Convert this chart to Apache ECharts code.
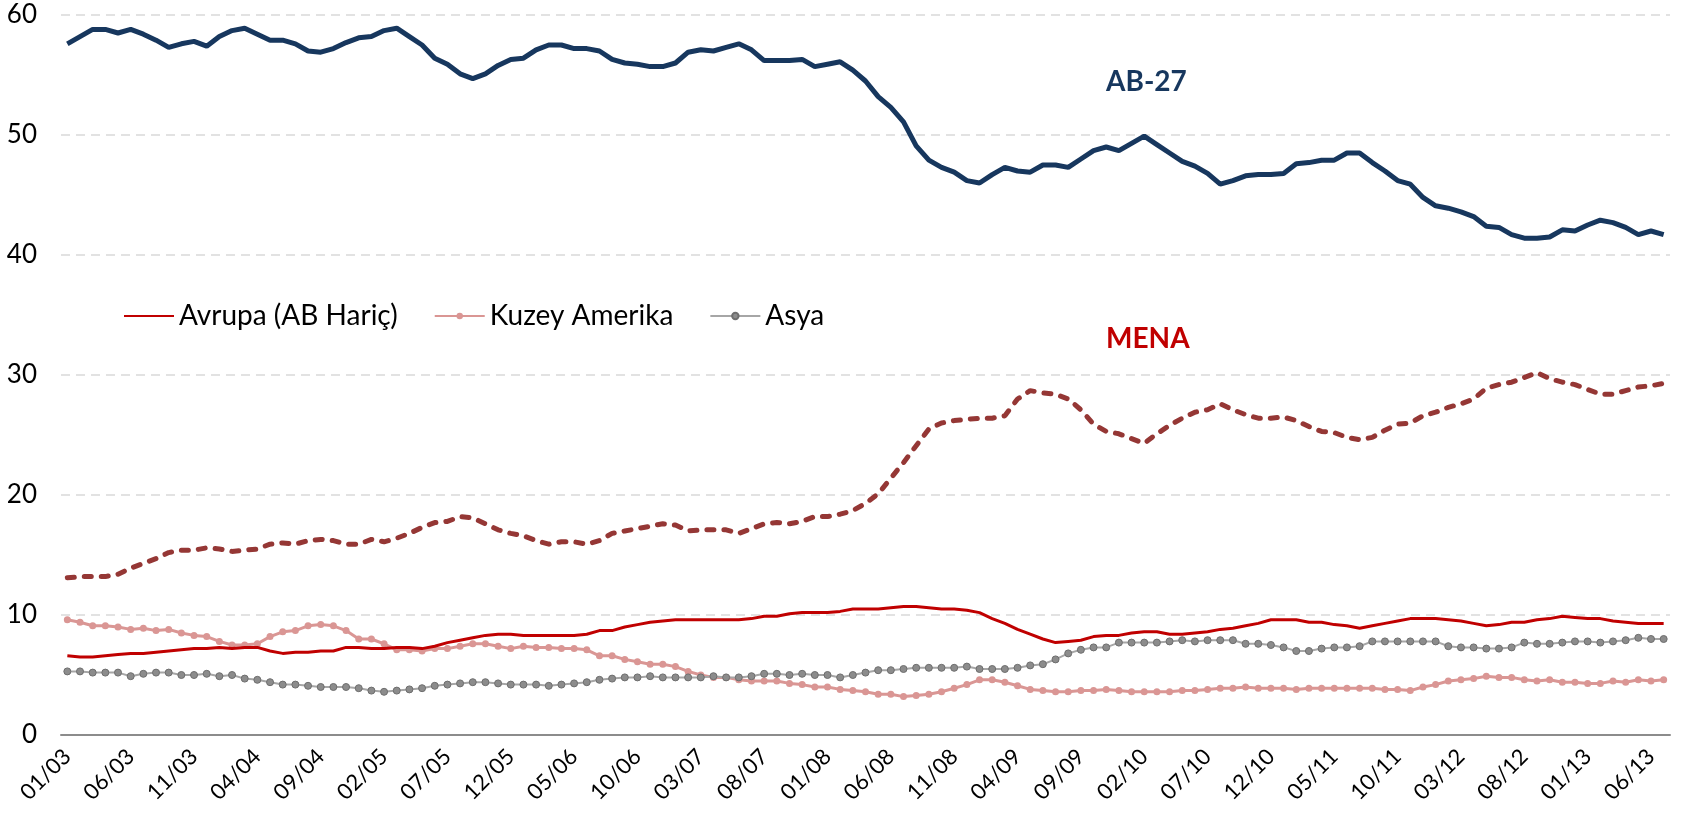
<!DOCTYPE html>
<html>
<head>
<meta charset="utf-8">
<script src="https://cdn.jsdelivr.net/npm/echarts@6/dist/echarts.min.js"></script>
<style>
  html, body { margin: 0; padding: 0; background: #fff; }
  #chart { width: 1684px; height: 819px; }
</style>
</head>
<body>
<div id="chart"></div>
<script>
// aylar: 01/03 .. 07/13
const months = []
for (let y = 3; y <= 13; y++) {
  for (let m = 1; m <= 12; m++) {
    if (y === 13 && m > 7) break
    months.push(String(m).padStart(2, '0') + '/' + String(y).padStart(2, '0'))
  }
}

const ab27 = [
  57.6, 58.2, 58.8, 58.8, 58.5, 58.8, 58.4, 57.9, 57.3, 57.6, 57.8, 57.4, 58.2, 58.7, 58.9, 58.4, 57.9, 57.9, 57.6, 57.0, 56.9,
  57.2, 57.7, 58.1, 58.2, 58.7, 58.9, 58.2, 57.5, 56.4, 55.9, 55.1, 54.7, 55.1, 55.8, 56.3, 56.4, 57.1, 57.5, 57.5, 57.2, 57.2, 57.0,
  56.3, 56.0, 55.9, 55.7, 55.7, 56.0, 56.9, 57.1, 57.0, 57.3, 57.6, 57.1, 56.2, 56.2, 56.2, 56.3, 55.7, 55.9, 56.1, 55.4, 54.5,
  53.2, 52.3, 51.1, 49.1, 47.9, 47.3, 46.9, 46.2, 46.0, 46.7, 47.3, 47.0, 46.9, 47.5, 47.5, 47.3, 48.0, 48.7, 49.0, 48.7, 49.3,
  49.9, 49.2, 48.5, 47.8, 47.4, 46.8, 45.9, 46.2, 46.6, 46.7, 46.7, 46.8, 47.6, 47.7, 47.9, 47.9, 48.5, 48.5, 47.7, 47.0, 46.2,
  45.9, 44.8, 44.1, 43.9, 43.6, 43.2, 42.4, 42.3, 41.7, 41.4, 41.4, 41.5, 42.1, 42.0, 42.5, 42.9, 42.7, 42.3, 41.7, 42.0, 41.7
]

const mena = [
  13.1, 13.2, 13.2, 13.2, 13.4, 13.9, 14.3, 14.7, 15.2, 15.4, 15.4, 15.6, 15.5, 15.3, 15.4, 15.5, 15.9, 16.0, 15.9, 16.2, 16.3,
  16.2, 15.9, 15.9, 16.3, 16.1, 16.4, 16.8, 17.3, 17.7, 17.8, 18.2, 18.1, 17.6, 17.1, 16.8, 16.6, 16.2, 15.9, 16.1, 16.1, 15.9, 16.2,
  16.8, 17.0, 17.2, 17.4, 17.6, 17.5, 17.0, 17.1, 17.1, 17.1, 16.8, 17.2, 17.6, 17.7, 17.6, 17.8, 18.2, 18.2, 18.4, 18.7, 19.3,
  20.1, 21.4, 22.7, 24.1, 25.5, 26.0, 26.2, 26.3, 26.4, 26.4, 26.6, 28.0, 28.7, 28.5, 28.4, 28.0, 27.1, 25.9, 25.3, 25.1, 24.7,
  24.3, 25.1, 25.8, 26.4, 26.9, 27.1, 27.6, 27.1, 26.7, 26.4, 26.4, 26.5, 26.2, 25.7, 25.3, 25.2, 24.8, 24.6, 24.8, 25.4, 25.9,
  26.0, 26.6, 26.9, 27.3, 27.6, 28.0, 28.9, 29.2, 29.4, 29.8, 30.2, 29.7, 29.4, 29.2, 28.8, 28.4, 28.4, 28.7, 29.0, 29.1, 29.3
]

const avrupa = [
  6.6, 6.5, 6.5, 6.6, 6.7, 6.8, 6.8, 6.9, 7.0, 7.1, 7.2, 7.2, 7.3, 7.2, 7.3, 7.3, 7.0, 6.8, 6.9, 6.9, 7.0,
  7.0, 7.3, 7.3, 7.2, 7.2, 7.3, 7.3, 7.2, 7.4, 7.7, 7.9, 8.1, 8.3, 8.4, 8.4, 8.3, 8.3, 8.3, 8.3, 8.3, 8.4, 8.7,
  8.7, 9.0, 9.2, 9.4, 9.5, 9.6, 9.6, 9.6, 9.6, 9.6, 9.6, 9.7, 9.9, 9.9, 10.1, 10.2, 10.2, 10.2, 10.3, 10.5, 10.5,
  10.5, 10.6, 10.7, 10.7, 10.6, 10.5, 10.5, 10.4, 10.2, 9.7, 9.3, 8.8, 8.4, 8.0, 7.7, 7.8, 7.9, 8.2, 8.3, 8.3, 8.5,
  8.6, 8.6, 8.4, 8.4, 8.5, 8.6, 8.8, 8.9, 9.1, 9.3, 9.6, 9.6, 9.6, 9.4, 9.4, 9.2, 9.1, 8.9, 9.1, 9.3, 9.5,
  9.7, 9.7, 9.7, 9.6, 9.5, 9.3, 9.1, 9.2, 9.4, 9.4, 9.6, 9.7, 9.9, 9.8, 9.7, 9.7, 9.5, 9.4, 9.3, 9.3, 9.3
]

const kuzeyAmerika = [
  9.6, 9.4, 9.1, 9.1, 9.0, 8.8, 8.9, 8.7, 8.8, 8.5, 8.3, 8.2, 7.8, 7.5, 7.5, 7.6, 8.2, 8.6, 8.7, 9.1, 9.2,
  9.1, 8.7, 8.0, 8.0, 7.6, 7.1, 7.1, 7.0, 7.2, 7.2, 7.4, 7.6, 7.6, 7.4, 7.2, 7.4, 7.3, 7.3, 7.2, 7.2, 7.1, 6.6,
  6.6, 6.3, 6.1, 5.9, 5.9, 5.7, 5.3, 5.0, 4.8, 4.8, 4.6, 4.5, 4.5, 4.5, 4.3, 4.2, 4.0, 4.0, 3.8, 3.7, 3.6,
  3.4, 3.4, 3.2, 3.3, 3.4, 3.6, 3.9, 4.2, 4.6, 4.6, 4.4, 4.1, 3.8, 3.7, 3.6, 3.6, 3.7, 3.7, 3.8, 3.7, 3.6,
  3.6, 3.6, 3.6, 3.7, 3.7, 3.8, 3.9, 3.9, 4.0, 3.9, 3.9, 3.9, 3.8, 3.9, 3.9, 3.9, 3.9, 3.9, 3.9, 3.8, 3.8,
  3.7, 4.0, 4.2, 4.5, 4.6, 4.7, 4.9, 4.8, 4.8, 4.6, 4.5, 4.6, 4.4, 4.4, 4.3, 4.3, 4.5, 4.4, 4.6, 4.5, 4.6
]

const asya = [
  5.3, 5.3, 5.2, 5.2, 5.2, 4.9, 5.1, 5.2, 5.2, 5.0, 5.0, 5.1, 4.9, 5.0, 4.7, 4.6, 4.4, 4.2, 4.2, 4.1, 4.0,
  4.0, 4.0, 3.9, 3.7, 3.6, 3.7, 3.8, 3.9, 4.1, 4.2, 4.3, 4.4, 4.4, 4.3, 4.2, 4.2, 4.2, 4.1, 4.2, 4.3, 4.4, 4.6,
  4.7, 4.8, 4.8, 4.9, 4.8, 4.8, 4.8, 4.8, 4.9, 4.8, 4.8, 4.9, 5.1, 5.1, 5.0, 5.1, 5.0, 5.0, 4.8, 5.0, 5.2,
  5.4, 5.4, 5.5, 5.6, 5.6, 5.6, 5.6, 5.7, 5.5, 5.5, 5.5, 5.6, 5.8, 5.9, 6.3, 6.8, 7.1, 7.3, 7.3, 7.7, 7.7,
  7.7, 7.7, 7.8, 7.9, 7.8, 7.9, 7.9, 7.9, 7.6, 7.6, 7.5, 7.3, 7.0, 7.0, 7.2, 7.3, 7.3, 7.4, 7.8, 7.8, 7.8,
  7.8, 7.8, 7.8, 7.4, 7.3, 7.3, 7.2, 7.2, 7.3, 7.7, 7.6, 7.6, 7.7, 7.8, 7.8, 7.7, 7.8, 7.9, 8.1, 8.0, 8.0
]

const yTicks = { min: 0, max: 60, interval: 10 }
const font = 'Lato, "Open Sans", sans-serif'

const chart = echarts.init(document.getElementById('chart'))
chart.setOption({
  animation: false,
  backgroundColor: '#fff',
  textStyle: { fontFamily: font },
  grid: { left: 61, right: 14, top: 15, bottom: 84, containLabel: false, outerBoundsMode: 'none' },
  legend: {
    left: 118,
    top: 297,
    itemWidth: 50,
    itemHeight: 8,
    itemGap: 36,
    textStyle: { fontSize: 28, color: '#000', fontFamily: font },
    data: [
      { name: 'Avrupa (AB Hariç)', itemStyle: { opacity: 0 } },
      'Kuzey Amerika',
      'Asya'
    ]
  },
  graphic: [
    { type: 'text', left: 1106, top: 68, style: { text: 'AB-27', fill: '#17375E', font: 'bold 28px ' + font } },
    { type: 'text', left: 1106, top: 325, style: { text: 'MENA', fill: '#C00000', font: 'bold 28px ' + font } }
  ],
  xAxis: {
    type: 'category',
    data: months,
    boundaryGap: true,
    axisLine: { lineStyle: { color: '#8c8c8c', width: 2 } },
    axisTick: { interval: 4, length: 8, lineStyle: { color: '#8c8c8c', width: 2 } },
    axisLabel: { interval: 4, rotate: 45, fontSize: 22, color: '#000', margin: 18 },
    splitLine: { show: false }
  },
  yAxis: {
    type: 'value',
    min: yTicks.min,
    max: yTicks.max,
    interval: yTicks.interval,
    axisLine: { show: false },
    axisTick: { show: false },
    axisLabel: { fontSize: 26, color: '#000', margin: 24 },
    splitLine: { lineStyle: { color: '#d9d9d9', type: [9, 6], width: 1.5 } }
  },
  series: [
    {
      name: 'AB-27', type: 'line', data: ab27, symbol: 'none',
      lineStyle: { color: '#17375E', width: 5 }, itemStyle: { color: '#17375E' }, z: 5
    },
    {
      name: 'MENA', type: 'line', data: mena, symbol: 'none',
      lineStyle: { color: '#953735', width: 5, type: [7, 10], cap: 'round' }, itemStyle: { color: '#953735' }, z: 5
    },
    {
      name: 'Avrupa (AB Hariç)', type: 'line', data: avrupa, symbol: 'none',
      lineStyle: { color: '#C00000', width: 3 }, itemStyle: { color: '#C00000' }, z: 4
    },
    {
      name: 'Kuzey Amerika', type: 'line', data: kuzeyAmerika, symbol: 'circle', symbolSize: 7,
      showAllSymbol: true,
      lineStyle: { color: '#DA9694', width: 3 }, itemStyle: { color: '#DA9694' }, z: 3
    },
    {
      name: 'Asya', type: 'line', data: asya, symbol: 'circle', symbolSize: 7,
      showAllSymbol: true,
      lineStyle: { color: '#a6a6a6', width: 2 },
      itemStyle: { color: '#8c8c8c', borderColor: '#6e6e6e', borderWidth: 1 }, z: 3
    }
  ]
})
</script>
</body>
</html>
